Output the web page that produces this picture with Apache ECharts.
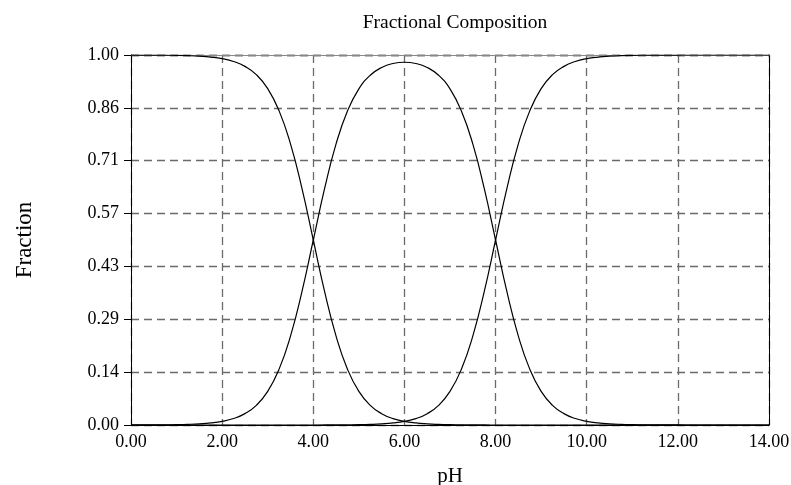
<!DOCTYPE html>
<html>
<head>
<meta charset="utf-8">
<script src="https://cdn.jsdelivr.net/npm/echarts@6/dist/echarts.min.js"></script>
<style>
html,body{margin:0;padding:0;background:#fff;}
#chart{width:791px;height:485px;}
</style>
</head>
<body>
<div id="chart"></div>
<script>
// pH values (x)
var pH = [0,0.25,0.5,0.75,1,1.25,1.5,1.75,2,2.25,2.5,2.75,3,3.25,3.5,3.75,4,4.25,4.5,4.75,5,5.25,5.5,5.75,6,6.25,6.5,6.75,7,7.25,7.5,7.75,8,8.25,8.5,8.75,9,9.25,9.5,9.75,10,10.25,10.5,10.75,11,11.25,11.5,11.75,12,12.25,12.5,12.75,13,13.25,13.5,13.75,14];
// fraction of fully protonated form
var fracH2A = [0.9999,0.9998,0.9997,0.9994,0.9990,0.9982,0.9968,0.9944,0.9901,0.9825,0.9693,0.9468,0.9091,0.8490,0.7597,0.6401,0.5000,0.3599,0.2402,0.1509,0.0908,0.0532,0.0306,0.0174,0.0098,0.0055,0.0031,0.0017,0.0009,0.0005,0.0002,0.0001,0,0,0,0,0,0,0,0,0,0,0,0,0,0,0,0,0,0,0,0,0,0,0,0,0];
// fraction of intermediate form
var fracHA = [0.0001,0.0002,0.0003,0.0006,0.0010,0.0018,0.0032,0.0056,0.0099,0.0175,0.0307,0.0532,0.0909,0.1510,0.2403,0.3599,0.5000,0.6400,0.7596,0.8486,0.9083,0.9452,0.9664,0.9771,0.9804,0.9771,0.9664,0.9452,0.9083,0.8486,0.7596,0.6400,0.5000,0.3599,0.2403,0.1510,0.0909,0.0532,0.0307,0.0175,0.0099,0.0056,0.0032,0.0018,0.0010,0.0006,0.0003,0.0002,0.0001,0,0,0,0,0,0,0,0];
// fraction of fully deprotonated form
var fracA = [0,0,0,0,0,0,0,0,0,0,0,0,0,0,0,0,0,0.0001,0.0002,0.0005,0.0009,0.0017,0.0031,0.0055,0.0098,0.0174,0.0306,0.0532,0.0908,0.1509,0.2402,0.3599,0.5000,0.6401,0.7597,0.8490,0.9091,0.9468,0.9693,0.9825,0.9901,0.9944,0.9968,0.9982,0.9990,0.9994,0.9997,0.9998,0.9999,1,1,1,1,1,1,1,1];

var titleText = 'Fractional Composition';
var xName = 'pH';
var yName = 'Fraction';

function pairs(ys){ return pH.map(function(x,i){ return [x, ys[i]]; }); }

var FONT = 'Liberation Serif';
var chart = echarts.init(document.getElementById('chart'), null, {renderer:'canvas'});
var lineStyle = {color:'#000', width:1.2};
function mk(name, ys){
  return {name:name, type:'line', data:pairs(ys), showSymbol:false, symbol:'none', smooth:true, lineStyle:lineStyle, itemStyle:{color:'#000'}, animation:false, xAxisIndex:0, yAxisIndex:0};
}
var gridLine = {color:'#6a6a6a', type:[8,5], width:1.3};
chart.setOption({
  animation:false,
  backgroundColor:'#fff',
  title:{text:titleText, left:450, top:8, textAlign:'center', textStyle:{fontFamily:FONT, fontSize:19.5, fontWeight:'normal', color:'#000'}},
  grid:{left:131, right:22, top:55, bottom:60, containLabel:false, outerBoundsMode:'none'},
  xAxis:[{
    type:'value', min:0, max:14, interval:2, position:'bottom',
    name:xName, nameLocation:'middle', nameGap:41,
    nameTextStyle:{fontFamily:FONT, fontSize:21, color:'#000'},
    axisLine:{show:true, onZero:false, lineStyle:{color:'#000', width:1}},
    axisTick:{show:false},
    axisLabel:{fontFamily:FONT, fontSize:18, color:'#000', margin:8, formatter:function(v){return v.toFixed(2);}},
    splitLine:{show:true, lineStyle:gridLine}
  },{
    type:'value', min:0, max:14, interval:2, position:'top',
    axisLine:{show:true, onZero:false, lineStyle:{color:'#888', width:1}},
    axisTick:{show:false}, axisLabel:{show:false}, splitLine:{show:false}
  }],
  yAxis:[{
    type:'value', min:0, max:1, interval:1/7, position:'left',
    name:yName, nameLocation:'middle', nameGap:95, nameRotate:90,
    nameTextStyle:{fontFamily:FONT, fontSize:23, color:'#000'},
    axisLine:{show:true, onZero:false, lineStyle:{color:'#000', width:1}},
    axisTick:{show:true, inside:false, length:7, lineStyle:{color:'#000'}},
    axisLabel:{fontFamily:FONT, fontSize:18, color:'#000', margin:12, formatter:function(v){return v.toFixed(2);}},
    splitLine:{show:true, lineStyle:gridLine}
  },{
    type:'value', min:0, max:1, interval:1/7, position:'right',
    axisLine:{show:true, onZero:false, lineStyle:{color:'#000', width:1}},
    axisTick:{show:false}, axisLabel:{show:false}, splitLine:{show:false}
  }],
  series:[mk('H2A', fracH2A), mk('HA', fracHA), mk('A', fracA)]
});
</script>
</body>
</html>
